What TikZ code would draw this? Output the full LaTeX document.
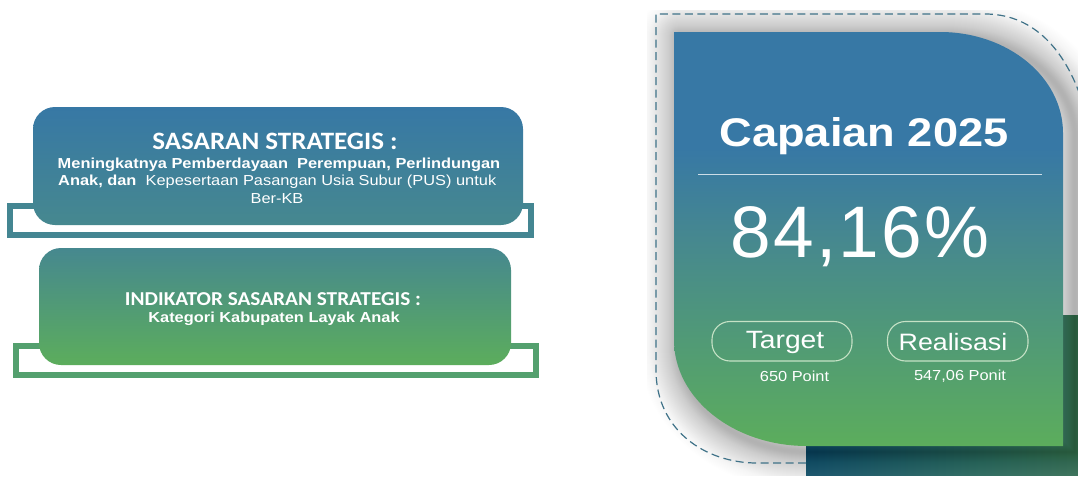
\documentclass[tikz,border=0pt]{standalone}
\usepackage{fontspec}
\setmainfont{Liberation Sans}
\newfontfamily\carlitofont{Carlito}[FakeStretch=1.08]
\newfontfamily\widefont{Liberation Sans}[FakeStretch=1.13]
\newfontfamily\bigfont{Liberation Sans}[LetterSpace=3]
\definecolor{cblue}{HTML}{3778A5}
\definecolor{cmid}{HTML}{46888F}
\definecolor{cgreen}{HTML}{5CAD5C}
\definecolor{cdash}{HTML}{3F7288}
\definecolor{dkleft}{HTML}{2E6880}
\definecolor{dkright}{HTML}{508C6E}
\pgfdeclareverticalshading{cardshade}{100bp}{
  color(0bp)=(cgreen);color(25bp)=(cgreen);color(50bp)=(cmid);color(61bp)=(cblue);color(100bp)=(cblue)}
\tikzset{
  x=1pt,y=-1pt,
  boxa/.style={top color=cblue,bottom color=cmid,draw=none},
  boxb/.style={top color=cmid,bottom color=cgreen,draw=none},
  brk/.style={draw=#1,line width=6pt,fill=white},
  cardpath/.style={shading=cardshade,draw=none},
  pill/.style={draw=#1,line width=1.1pt,rounded corners=18pt},
  lbl/.style={text=white,inner sep=0pt,align=center},
  dashline/.style={draw=#1,line width=1.2pt,dash pattern=on 8pt off 4.5pt},
}
\begin{document}
\begin{tikzpicture}
\useasboundingbox (0,0) rectangle (1078,479);
% left panels
\draw[brk=cmid!85!cblue] (10,206) rectangle (531,235);
\path[boxa,rounded corners=22pt] (33,107) rectangle (523,225);
\draw[brk=cgreen!65!cmid] (16,346) rectangle (536,375);
\path[boxb,rounded corners=22pt] (39,248) rectangle (511,365);
\node[lbl,font=\carlitofont\bfseries\fontsize{25}{27}\selectfont] (t1) at (275,141) {SASARAN STRATEGIS :};
\node[lbl,font=\widefont\bfseries\fontsize{14.5}{16}\selectfont] (t2) at (279,165) {Meningkatnya Pemberdayaan\ \ Perempuan, Perlindungan};
\node[lbl,anchor=west,font=\widefont\fontsize{14.5}{16}\selectfont] (t3) at (58,182) {\textbf{Anak, dan}\ \ Kepesertaan Pasangan Usia Subur (PUS) untuk};
\node[lbl,font=\widefont\fontsize{14.5}{16}\selectfont] (t4) at (277,199) {Ber-KB};
\node[lbl,font=\carlitofont\bfseries\fontsize{19.7}{22}\selectfont] (t5) at (273,299) {INDIKATOR SASARAN STRATEGIS :};
\node[lbl,font=\widefont\bfseries\fontsize{14.5}{16}\selectfont] (t6) at (274,319) {Kategori Kabupaten Layak Anak};
% right panel
\begin{scope}
\clip (647,10) rectangle (1078,475);
\shade[left color=dkleft,right color=dkright] (806,315) rectangle (1078,475);
\foreach \i in {1,...,40}{
  \pgfmathsetmacro{\w}{2*\i}
  \pgfmathsetmacro{\o}{0.004+0.008*(1-\i/40)}
  \draw[black,line width=\w pt,opacity=\o,line join=round]
    (679,36) -- (945,36) arc[start angle=90,end angle=0,x radius=130,y radius=-101]
    -- (1075,452) -- (812,452) arc[start angle=270,end angle=180,x radius=133,y radius=-106] -- cycle;
}
\draw[dashline=cdash] (806,463) -- (757,463) .. controls (705,463) and (656,430) .. (656,370) -- (656,14) -- (985,14) .. controls (1030,14) and (1062,45) .. (1080,95);
\end{scope}
\path[cardpath] (674,32) -- (940,32) arc[start angle=90,end angle=0,x radius=123,y radius=-101]
    -- (1063,446) -- (807,446) arc[start angle=270,end angle=180,x radius=133,y radius=-106] -- cycle;
\node[lbl,font=\widefont\bfseries\fontsize{40}{44}\selectfont] (cap) at (864,136) {Capaian 2025};
\coordinate (ruleL) at (698,174);
\coordinate (ruleR) at (1042,174);
\draw[draw=cblue!25!white,line width=0.9pt] (ruleL) -- (ruleR);
\node[lbl,font=\bigfont\fontsize{73}{80}\selectfont] (pct) at (860,237) {84,16\%};
\draw[pill=cgreen!35!white] (712,321.5) rectangle (852,361);
\draw[pill=cgreen!35!white] (887.5,321.5) rectangle (1028,361);
\node[lbl,font=\widefont\fontsize{25}{28}\selectfont] (tg) at (785,342) {Target};
\node[lbl,font=\widefont\fontsize{23.7}{28}\selectfont] (rl) at (953,342) {Realisasi};
\node[lbl,font=\widefont\fontsize{14.5}{16}\selectfont] (v1) at (794.5,376) {650 Point};
\node[lbl,font=\widefont\fontsize{14.5}{16}\selectfont] (v2) at (960,376) {547,06 Ponit};
\end{tikzpicture}
\end{document}
